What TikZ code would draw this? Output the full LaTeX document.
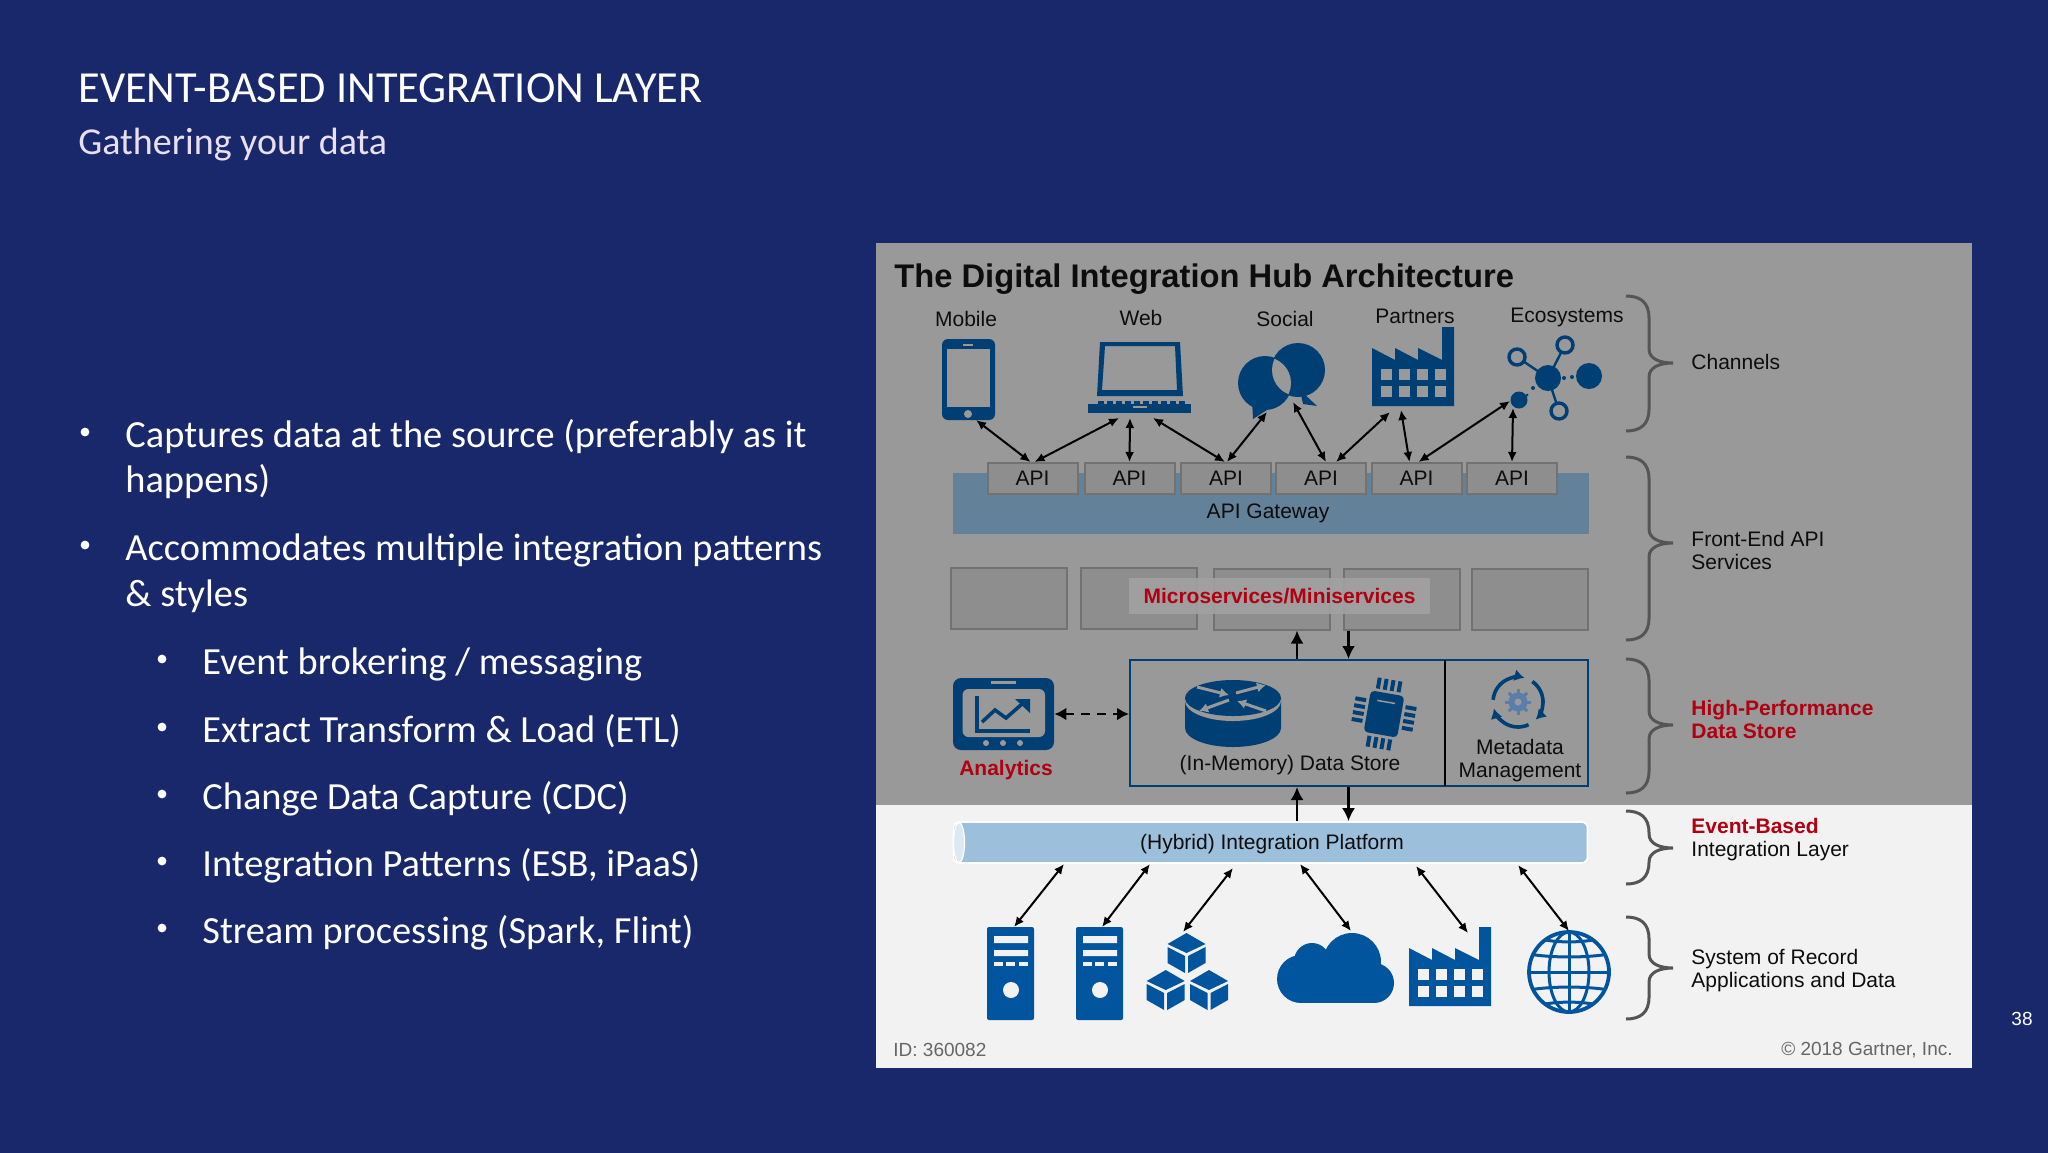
\documentclass[tikz,border=0pt]{standalone}
\usepackage{fontspec}
\setmainfont{Liberation Sans}
\newfontfamily\slidefont{Carlito}
\usetikzlibrary{arrows.meta}

\definecolor{slidebg}{HTML}{18286B}
\definecolor{panelgray}{HTML}{999999}
\definecolor{panellight}{HTML}{F2F2F2}
\definecolor{iconup}{HTML}{003F73}
\definecolor{icondown}{HTML}{00559E}
\definecolor{bandblue}{HTML}{64819A}
\definecolor{pipeblue}{HTML}{9CC0DB}
\definecolor{pipeend}{HTML}{DCE9F3}
\definecolor{boxgray}{HTML}{8E8E8E}
\definecolor{boxline}{HTML}{727272}
\definecolor{hubred}{HTML}{B00012}
\definecolor{bracegray}{HTML}{555555}
\definecolor{geargray}{HTML}{5A7DAA}
\definecolor{subtitle}{HTML}{EADFF2}

\newcommand{\drawfactory}[4]{
\begin{scope}[shift={(#1,#2)}]
\fill[#3] (0,21) -- (23,33) -- (23,21) -- (46,33) -- (46,21) -- (70,33) -- (70,0) -- (82,0) -- (82,79) -- (0,79) -- cycle;
\foreach \i in {0,1,2,3} \foreach \j in {0,1}
  \fill[#4] (9+18*\i,42+17*\j) rectangle (19.5+18*\i,53+17*\j);
\end{scope}}

\newcommand{\drawserver}[2]{
\begin{scope}[shift={(#1,#2)}]
\fill[icondown,rounded corners=1pt] (0,0) rectangle (47,93);
\fill[panellight] (7,9) rectangle (41,16) (7,23) rectangle (41,29);
\foreach \x in {7,19,32} \fill[panellight] (\x,35) rectangle (\x+9,39);
\fill[panellight] (24,63) circle[radius=8];
\end{scope}}

\newcommand{\drawcube}[2]{
\begin{scope}[shift={(#1,#2)}]
\fill[icondown] (0,0) -- (19,11) -- (0,20) -- (-19,11) -- cycle;
\fill[icondown] (-19,14) -- (-1.5,23) -- (-1.5,40) -- (-19,30) -- cycle;
\fill[icondown] (19,14) -- (1.5,23) -- (1.5,40) -- (19,30) -- cycle;
\end{scope}}

\newcommand{\drawbrace}[3]{
\draw[bracegray,line width=1.5pt] (1626,#1) .. controls (1640,#1) and (1649,#1+6) .. (1649,#1+22) -- (1649,#2-14)
  .. controls (1649,#2-4) and (1660,#2) .. (1673,#2) .. controls (1660,#2) and (1649,#2+4) .. (1649,#2+14)
  -- (1649,#3-22) .. controls (1649,#3-6) and (1640,#3) .. (1626,#3);}

\begin{document}
\begin{tikzpicture}[x=.5pt,y=-.5pt,
  slidetext/.style={font=\slidefont\fontsize{19.2}{23}\selectfont,text=white,anchor=base west,inner sep=0pt},
  slidedot/.style={circle,fill=white,minimum size=4.4pt,inner sep=0pt},
  lbl/.style={font=\fontsize{10.5}{11.5}\selectfont,text=black!95,inner sep=0pt},
  sidelbl/.style={lbl,anchor=west,align=left},
  redlbl/.style={font=\fontsize{10.5}{11.5}\selectfont\bfseries,text=hubred,inner sep=0pt},
  apibox/.style={draw=boxline,fill=boxgray,line width=1pt,minimum width=45pt,minimum height=15.5pt,inner sep=0pt,font=\fontsize{10.5}{11.5}\selectfont,text=black!95},
  msbox/.style={draw=boxline,fill=boxgray,line width=1pt,minimum width=58pt,minimum height=30.5pt,inner sep=0pt},
  dbl/.style={{Latex[length=5pt,width=4.5pt]}-{Latex[length=5pt,width=4.5pt]},line width=1pt,black},
  thickarrow/.style={-{Latex[length=6.5pt,width=6.5pt]},line width=1.2pt,black},
  ]

\useasboundingbox (0,0) rectangle (2048,1152);
\fill[slidebg] (-5,-5) rectangle (2053,1157);

% slide text
\node[slidetext,font=\slidefont\fontsize{22.2}{26}\selectfont] (slidetitle) at (78,102) {EVENT-BASED INTEGRATION LAYER};
\node[slidetext,text=subtitle,font=\slidefont\fontsize{19}{23}\selectfont] (slidesub) at (78,154) {Gathering your data};
\foreach \n/\y/\t in {1/447/{Captures data at the source (preferably as it},2/492/{happens)},3/560/{Accommodates multiple integration patterns},4/606/{\& styles}}
  \node[slidetext] (main\n) at (125,\y) {\t};
\foreach \n/\y in {1/432,3/545}
  \node[slidedot] (dot\n) at (85,\y) {};
\foreach \n/\y/\t in {1/674/{Event brokering / messaging},2/742/{Extract Transform \& Load (ETL)},3/809/{Change Data Capture (CDC)},4/876/{Integration Patterns (ESB, iPaaS)},5/943/{Stream processing (Spark, Flint)}}{
  \node[slidetext] (sub\n) at (202,\y) {\t};
  \node[slidedot] (subdot\n) at (162,\y-15) {};
}
\node[font=\fontsize{9.5}{11}\selectfont,text=white,inner sep=0pt] (pagenum) at (2022,1019) {38};

% panel
\fill[panelgray] (876,243) rectangle (1972,805);
\fill[panellight] (876,805) rectangle (1972,1068);
\node[anchor=base west,inner sep=0pt,font=\fontsize{16.35}{18}\selectfont\bfseries,text=black!95] (hubtitle) at (894,287) {The Digital Integration Hub Architecture};

\foreach \n/\x/\y/\t in {mob/966/319/Mobile,web/1141/318/Web,soc/1285/319/Social,par/1415/316/Partners,eco/1567/317.5/Ecosystems}
  \node[lbl] (\n) at (\x,\y) {\t};

% gateway
\fill[bandblue] (953,473) rectangle (1589,534);
\foreach \n/\x in {1/1032.5,2/1129.5,3/1226,4/1321,5/1416.5,6/1512}
  \node[apibox] (api\n) at (\x,478.5) {API};
\node[lbl] (gateway) at (1268,513) {API Gateway};

% channel icons
\fill[iconup,rounded corners=3pt] (942,339) rectangle (995,420);
\fill[panelgray] (946.5,349) rectangle (990,407);
\fill[panelgray] (963,343.5) rectangle (973,345.5);
\fill[panelgray] (968,414) circle[radius=4];

\fill[iconup,even odd rule] (1100,342) -- (1180,342) -- (1183,396) -- (1097,396) -- cycle
  (1105,346) -- (1175,346) -- (1177,390) -- (1102,390) -- cycle;
\fill[iconup] (1088,404) rectangle (1191,413);
\foreach \x in {1098,1107,1116,1125,1134,1143,1152,1161,1170,1179}
  \fill[iconup] (\x,401) rectangle (\x+6,404);
\fill[panelgray] (1133,406) rectangle (1147,408);

\fill[iconup] (1265,383) circle[radius=27];
\fill[iconup] (1298,370) circle[radius=27];
\fill[iconup] (1252,400) -- (1253,419) -- (1270,408) -- cycle;
\fill[iconup] (1300,390) -- (1317,406) -- (1303,404) -- cycle;
\begin{scope}
\clip (1265,383) circle[radius=26];
\fill[panelgray] (1298,370) circle[radius=26];
\end{scope}

\drawfactory{1372}{327}{iconup}{panelgray}

\draw[iconup,line width=1.2pt] (1548,378) -- (1565,345) (1548,378) -- (1517,357) (1548,378) -- (1559,411);
\fill[iconup] (1548,378) circle[radius=13];
\fill[iconup] (1589,376) circle[radius=13];
\fill[iconup] (1519,400) circle[radius=8.5];
\foreach \x/\y in {1565/345,1517/357,1559/411}
  \filldraw[fill=panelgray,draw=iconup,line width=1.7pt] (\x,\y) circle[radius=8];
\foreach \x/\y/\r in {1564/378/2,1572/377/2,1533/388/2,1527/395/1.5}
  \fill[iconup] (\x,\y) circle[radius=\r];

% channel arrows
\foreach \n/\x/\y/\a/\s in {1/976/420/1/-1,2/1119/418/1/1,3/1130/418/2/0,4/1153/418/3/-.5,5/1267/412/3/.5,6/1293/402/4/2.5,7/1390/412/4/7.5,8/1401/410/5/-3.5,9/1510/401/5/1,10/1513/408/6/0}{
  \coordinate (ch\n) at (\x,\y);
  \draw[dbl] (ch\n) -- ([xshift=\s pt]api\a.north);
}

% microservices
\foreach \n/\x/\y in {1/1009/598.5,2/1139/598.5,3/1271.5/599,4/1401.5/599,5/1530/599.5}
  \node[msbox] (ms\n) at (\x,\y) {};
\node[redlbl,fill=panelgray!92!white,fill opacity=.9,text opacity=1,minimum width=150.5pt,minimum height=18pt] (msname) at (1279.5,596) {Microservices/Miniservices};

% data store
\node[draw=iconup,line width=1pt,minimum width=229pt,minimum height=63pt,inner sep=0pt] (store) at (1359,723) {};
\coordinate (divtop) at (1445,660);
\coordinate (divbot) at (1445,786);
\draw[black,line width=1pt] (divtop) -- (divbot);
\node[lbl] (storename) at (1290,765.5) {(In-Memory) Data Store};
\node[lbl,align=center,font=\fontsize{10.5}{11.5}\selectfont] (metaname) at (1520,760.5) {Metadata\\Management};

\node[fill=iconup,rounded corners=4pt,minimum width=50.5pt,minimum height=36pt,inner sep=0pt] (analytics) at (1003.5,714) {};
\fill[panelgray,rounded corners=3pt] (962.5,689) rectangle (1045,737);
\fill[panelgray] (991,681) rectangle (1016,684);
\foreach \x in {986,1003,1020} \fill[panelgray] (\x,743) circle[radius=3];
\draw[iconup,line width=1.8pt] (977,696) -- (977,731) -- (1030,731);
\draw[iconup,line width=1.8pt] (982,722) -- (995,710) -- (1006,718) -- (1022,704);
\fill[iconup] (1015,699) -- (1030,699) -- (1030,713) -- cycle;
\node[redlbl] (analyticsname) at (1006,770) {Analytics};
\draw[{Latex[length=6pt,width=6.5pt]}-{Latex[length=6pt,width=6.5pt]},dash pattern=on 4.5pt off 3.5pt,line width=1.2pt] (analytics.east) -- (analytics.east -| store.west);

% router
\fill[iconup] (1185,699) -- (1185,728) arc[start angle=180,end angle=0,x radius=48,y radius=19] -- (1281,699) -- cycle;
\fill[panelgray] (1233,701) ellipse[x radius=48,y radius=20];
\fill[iconup] (1233,698) ellipse[x radius=48,y radius=18];
\foreach \ax/\ay/\bx/\by in {1197/687/1229/695,1236/693/1266/685,1229/700/1199/711,1266/711/1237/701}
  \draw[-{Latex[length=4.5pt,width=5pt]},panelgray,line width=1.5pt] (\ax,\ay) -- (\bx,\by);

% chip
\begin{scope}[shift={(1384,714)},rotate=-10]
\fill[iconup,rounded corners=2pt] (-17,-21) rectangle (17,21);
\fill[panelgray] (-9,-13) rectangle (9,-11.5);
\foreach \p in {-10.5,-3.5,3.5,10.5}{
  \fill[iconup] (\p-2,-35) rectangle (\p+2,-24);
  \fill[iconup] (\p-2,24) rectangle (\p+2,35);
  \fill[iconup] (-31,\p-2) rectangle (-20,\p+2);
  \fill[iconup] (20,\p-2) rectangle (31,\p+2);
}
\end{scope}

% gear
\foreach \s/\e in {185/285,305/405,65/165}
  \draw[-{Latex[length=5pt,width=6pt]},iconup,line width=1.8pt] (1518,702) ++(\s:25) arc[start angle=\s,end angle=\e,radius=25];
\foreach \a in {0,45,...,315}
  \draw[geargray,line width=1.5pt] (1518,702) -- ++(\a:13);
\fill[geargray] (1518,702) circle[radius=9.5];
\fill[panelgray] (1518,702) circle[radius=3.5];

% platform
\node[fill=pipeblue,draw=white,line width=.8pt,rounded corners=3pt,minimum width=317pt,minimum height=20.5pt,inner sep=0pt] (platform) at (1270.5,842.5) {};
\fill[pipeend] (959,842.5) ellipse[x radius=5.5,y radius=20];
\draw[white,line width=.6pt] (959,842.5) ellipse[x radius=5.5,y radius=20];
\node[lbl] (platformname) at (1272,844) {(Hybrid) Integration Platform};

\coordinate (upx) at (1297,0);
\coordinate (dnx) at (1348.5,0);
\draw[thickarrow] (store.north -| upx) -- (ms3.south -| upx);
\draw[thickarrow] (ms4.south -| dnx) -- (store.north -| dnx);
\draw[thickarrow] (platform.north -| upx) -- (store.south -| upx);
\draw[thickarrow] (store.south -| dnx) -- (platform.north -| dnx);

% system of record icons
\drawserver{987}{927}
\drawserver{1076}{927}
\drawcube{1186.5}{933}
\drawcube{1165.7}{970}
\drawcube{1209}{970}

\fill[icondown] (1352,962) circle[radius=29];
\fill[icondown] (1312,961) circle[radius=18];
\fill[icondown] (1301,979) circle[radius=24];
\fill[icondown] (1374,983) circle[radius=20];
\fill[icondown] (1301,965) rectangle (1374,1003);

\drawfactory{1409}{927}{icondown}{panellight}

\begin{scope}
\clip (1569,972) circle[radius=41];
\foreach \y in {-28,-14,0,14,28}
  \draw[icondown,line width=1.5pt] (1528,972+\y+.3*\y) .. controls (1550,972+\y) and (1588,972+\y) .. (1610,972+\y+.3*\y);
\end{scope}
\draw[icondown,line width=1.9pt] (1569,972) circle[radius=40];
\draw[icondown,line width=1.5pt] (1569,972) ellipse[x radius=20,y radius=40];
\draw[icondown,line width=1.5pt] (1569,932) -- (1569,1012);

% system arrows
\foreach \n/\ax/\ay/\bx/\by in {1/1064/864/1014/927,2/1150/864/1102/927,3/1233/868/1183/932,4/1300/864/1351/931,5/1416/866/1468/933,6/1518/865/1569/931}{
  \coordinate (pl\n) at (\ax,\ay);
  \coordinate (sr\n) at (\bx,\by);
  \draw[dbl] (pl\n) -- (sr\n);
}

% braces
\drawbrace{296}{363}{431}
\drawbrace{457}{543}{640}
\drawbrace{659}{725}{793}
\drawbrace{811}{848}{884}
\drawbrace{917}{968}{1019}

\node[sidelbl] (layer1) at (1691,362) {Channels};
\node[sidelbl] (layer2) at (1691,550.5) {Front-End API\\Services};
\node[sidelbl,redlbl,align=left,anchor=west] (layer3) at (1691,719) {High-Performance\\Data Store};
\node[sidelbl,anchor=base west,redlbl] (layer4) at (1691,833.5) {Event-Based};
\node[sidelbl,anchor=base west] (layer4b) at (1691,856.5) {Integration Layer};
\node[sidelbl] (layer5) at (1691,970.5) {System of Record\\Applications and Data};

\node[anchor=west,inner sep=0pt,font=\fontsize{9.5}{11}\selectfont,text=black!60] (docid) at (893,1050) {ID: 360082};
\node[anchor=east,inner sep=0pt,font=\fontsize{9.5}{11}\selectfont,text=black!60] (copy) at (1953,1050) {© 2018 Gartner, Inc.};

\end{tikzpicture}
\end{document}
